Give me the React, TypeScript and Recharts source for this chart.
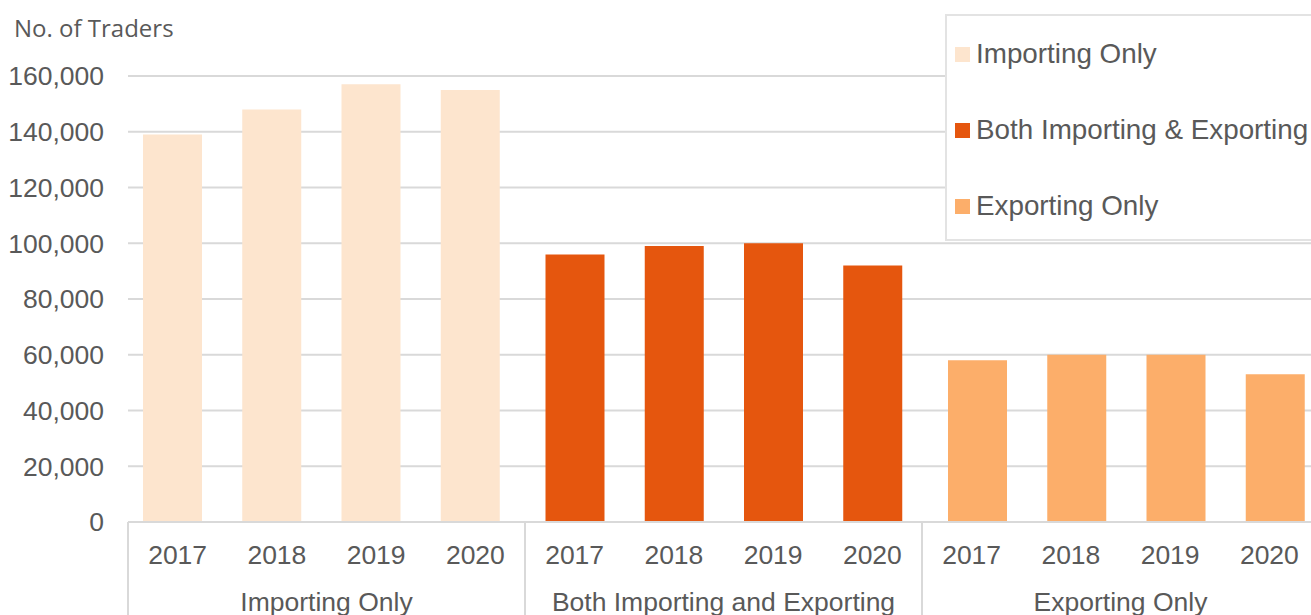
import React from "react";
import { BarChart, Bar, XAxis, YAxis, CartesianGrid, Legend } from "recharts";

const years = ["2017", "2018", "2019", "2020"];
const groups = ["Importing Only", "Both Importing and Exporting", "Exporting Only"];
const seriesNames = ["Importing Only", "Both Importing & Exporting", "Exporting Only"];
const importingOnly = [139000, 148000, 157000, 155000];
const bothImportingExporting = [96000, 99000, 100000, 92000];
const exportingOnly = [58000, 60000, 60000, 53000];
const yTicks = [0, 20000, 40000, 60000, 80000, 100000, 120000, 140000, 160000];
const colors = ["#FDE5CE", "#E5560E", "#FCAE6A"];
const seriesValues = [importingOnly, bothImportingExporting, exportingOnly];
const keys = ["imp", "both", "exp"];

type Row = { key: string; year: string; group: string; gi: number; yi: number; [k: string]: any };
const data: Row[] = [];
groups.forEach((g, gi) => {
  years.forEach((y, yi) => {
    const row: Row = { key: `${gi}-${y}`, year: y, group: g, gi, yi };
    keys.forEach((k, si) => {
      row[k] = si === gi ? seriesValues[si][yi] : null;
    });
    data.push(row);
  });
});

const CHART_W = 1319;
const CHART_H = 615;
const Y_AXIS_W = 128;
const X_AXIS_H = 93;
const MARGIN = { top: 76, right: 0, left: 0, bottom: 0 };
const BAND = (CHART_W - Y_AXIS_W - MARGIN.left - MARGIN.right) / data.length;
const TEXT = "#595959";
const GRID = "#d9d9d9";
const FONT = "'Liberation Sans', Arial, sans-serif";

const XTick = (props: any) => {
  const { x, y, payload } = props;
  const idx = payload.index;
  const row = data[idx];
  if (!row) return null;
  return (
    <g>
      <text x={x} y={y + 42} textAnchor="middle" fill={TEXT} fontSize={26.5} fontFamily={FONT}>
        {row.year}
      </text>
      {row.yi === 0 && (
        <line x1={x - BAND / 2} x2={x - BAND / 2} y1={y} y2={y + X_AXIS_H} stroke={GRID} strokeWidth={2} />
      )}
      {idx === data.length - 1 && (
        <line x1={x + BAND / 2} x2={x + BAND / 2} y1={y} y2={y + X_AXIS_H} stroke={GRID} strokeWidth={2} />
      )}
      {row.yi === 1 && (
        <text x={x + BAND / 2} y={y + 89} textAnchor="middle" fill={TEXT} fontSize={26.5} fontFamily={FONT}>
          {row.group}
        </text>
      )}
    </g>
  );
};

const LegendContent = (props: any) => {
  const payload = [...(props.payload || [])].sort(
    (a: any, b: any) => seriesNames.indexOf(a.value) - seriesNames.indexOf(b.value)
  );
  return (
    <div
      style={{
        width: 400,
        height: 223,
        border: `2px solid #e3e3e3`,
        background: "#fff",
        boxSizing: "content-box",
      }}
    >
      {payload.map((p: any, i: number) => (
        <div
          key={i}
          style={{
            height: 76,
            display: "flex",
            alignItems: "center",
            paddingLeft: 8,
            fontFamily: FONT,
            fontSize: 27.8,
            color: TEXT,
            whiteSpace: "nowrap",
          }}
        >
          <span style={{ display: "inline-block", width: 15, height: 15, background: p.color, marginRight: 6 }} />
          <span>{p.value}</span>
        </div>
      ))}
    </div>
  );
};

export default function App() {
  return (
    <div
      style={{
        position: "absolute",
        left: 0,
        top: 0,
        width: 1311,
        height: 615,
        overflow: "hidden",
        background: "#fff",
      }}
    >
      <div
        style={{
          position: "absolute",
          left: 14,
          top: 12,
          fontFamily: "'Open Sans', sans-serif",
          fontSize: 24,
          color: TEXT,
          lineHeight: "32px",
          zIndex: 2,
        }}
      >
        No. of Traders
      </div>
      <BarChart width={CHART_W} height={CHART_H} data={data} margin={MARGIN} barGap={-53.5}>
        <CartesianGrid vertical={false} stroke={GRID} strokeWidth={2} />
        <XAxis
          dataKey="key"
          interval={0}
          height={X_AXIS_H}
          tickLine={false}
          tickSize={0}
          tickMargin={0}
          axisLine={{ stroke: GRID, strokeWidth: 2 }}
          tick={<XTick />}
        />
        <YAxis
          width={Y_AXIS_W}
          domain={[0, 160000]}
          ticks={yTicks}
          axisLine={false}
          tickLine={false}
          tickSize={0}
          tickMargin={24}
          tickFormatter={(v: number) => v.toLocaleString("en-US")}
          tick={{ fill: TEXT, fontSize: 26.5, fontFamily: FONT }}
        />
        <Legend
          layout="vertical"
          align="center"
          verticalAlign="middle"
          itemSorter={null as any}
          wrapperStyle={{ position: "absolute", left: 945, top: 14, width: 404, margin: 0 }}
          content={<LegendContent />}
        />
        {keys.map((k, i) => (
          <Bar key={k} dataKey={k} name={seriesNames[i]} fill={colors[i]} barSize={59} isAnimationActive={false} />
        ))}
      </BarChart>
    </div>
  );
}
